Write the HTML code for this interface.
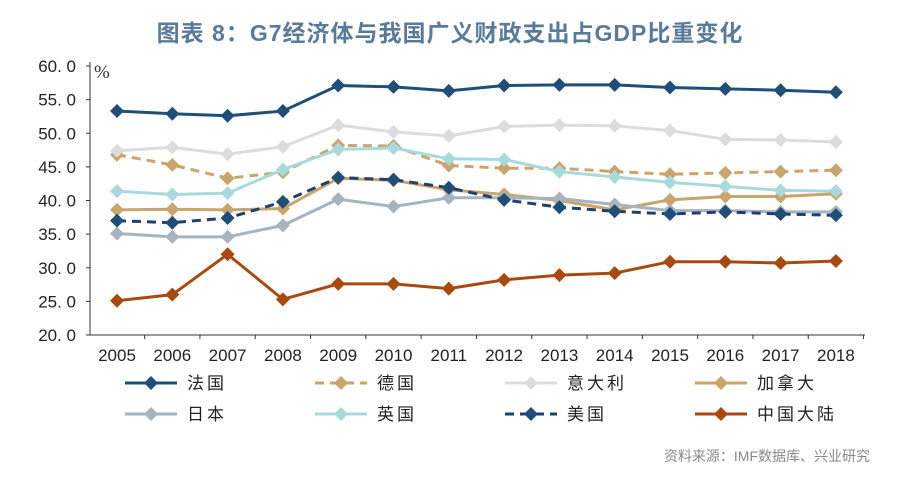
<!DOCTYPE html>
<html><head><meta charset="utf-8"><style>
body{margin:0;background:#fff;width:900px;height:490px;overflow:hidden;font-family:"Liberation Sans","Noto Sans CJK SC",sans-serif}
</style></head><body>
<svg width="900" height="490" id="c">
<text x="450" y="41" text-anchor="middle" font-size="23" font-weight="bold" fill="#5a7a99" letter-spacing="1" font-family="Liberation Sans,Noto Sans CJK SC,sans-serif">图表 8：G7经济体与我国广义财政支出占GDP比重变化</text>
<text x="94" y="78" font-size="19" fill="#333" font-family="Liberation Serif,serif">%</text>
<text x="870" y="461" text-anchor="end" font-size="14" fill="#888">资料来源：IMF数据库、兴业研究</text>
<g id="plot"></g>
</svg>
<script>
const years=['2005','2006','2007','2008','2009','2010','2011','2012','2013','2014','2015','2016','2017','2018'];
const yTicks=[20,25,30,35,40,45,50,55,60];
const france=[53.3,52.9,52.6,53.3,57.1,56.9,56.3,57.1,57.2,57.2,56.8,56.6,56.4,56.1];
const germany=[46.8,45.3,43.3,44.2,48.2,48.1,45.2,44.8,44.8,44.3,43.9,44.1,44.3,44.5];
const italy=[47.4,47.9,46.9,48.0,51.2,50.2,49.6,51.0,51.2,51.1,50.4,49.1,49.0,48.7];
const canada=[38.6,38.7,38.6,38.8,43.3,43.0,41.6,40.9,40.0,38.6,40.1,40.6,40.6,41.0];
const japan=[35.1,34.6,34.6,36.3,40.2,39.1,40.4,40.4,40.3,39.4,38.5,38.5,38.3,38.3];
const uk=[41.4,40.9,41.1,44.6,47.6,47.8,46.2,46.1,44.3,43.5,42.7,42.1,41.5,41.4];
const us=[37.0,36.7,37.4,39.8,43.4,43.1,41.9,40.1,39.0,38.4,38.0,38.3,38.0,37.8];
const china=[25.1,26.0,32.0,25.3,27.6,27.6,26.9,28.2,28.9,29.2,30.9,30.9,30.7,31.0];
const series=[
{n:'法国',d:france,c:'#1f4e79',dash:false,id:'france'},
{n:'德国',d:germany,c:'#c9a46c',dash:true,id:'germany'},
{n:'意大利',d:italy,c:'#dcdcdc',dash:false,id:'italy'},
{n:'加拿大',d:canada,c:'#c9a46c',dash:false,id:'canada'},
{n:'日本',d:japan,c:'#a5b4be',dash:false,id:'japan'},
{n:'英国',d:uk,c:'#a8dadc',dash:false,id:'uk'},
{n:'美国',d:us,c:'#1f3f6e',dash:true,id:'us',mc:'#1f4e79'},
{n:'中国大陆',d:china,c:'#a84a10',dash:false,id:'china'}];
const NS='http://www.w3.org/2000/svg';
const g=document.getElementById('plot');
const X=i=>117+i*55.3;
const Y=v=>335-(v-20)*6.725;
function mk(t,a,p){const e=document.createElementNS(NS,t);for(const k in a)e.setAttribute(k,a[k]);(p||g).appendChild(e);return e;}
let ax=mk('line',{x1:90,y1:335,x2:865,y2:335,stroke:'#333','stroke-width':1});


let ay=mk('line',{x1:90,y1:62,x2:90,y2:335,stroke:'#333','stroke-width':1});


yTicks.forEach(v=>{
 const t=mk('text',{x:76,y:Y(v)+6,'text-anchor':'end','font-size':17,fill:'#222'});t.textContent=v.toFixed(1).replace('.','. ');
 
 
 mk('line',{x1:86,y1:Y(v),x2:90,y2:Y(v),stroke:'#333'});
});
years.forEach((y,i)=>{
 const t=mk('text',{x:X(i),y:361,'text-anchor':'middle','font-size':17,fill:'#222'});t.textContent=y;
 
 
 mk('line',{x1:X(i)+27.65,y1:335,x2:X(i)+27.65,y2:339,stroke:'#333'});
});
function diamond(x,y,r,c,p){return mk('polygon',{points:`${x},${y-r} ${x+r},${y} ${x},${y+r} ${x-r},${y}`,fill:c},p);}
series.forEach(s=>{
 const sg=mk('g',{});
 
 
 const pts=s.d.map((v,i)=>X(i)+','+Y(v)).join(' ');
 const l=mk('polyline',{points:pts,fill:'none',stroke:s.c,'stroke-width':3,'stroke-dasharray':s.dash?'9,6':'none'},sg);
 
 
 s.d.forEach((v,i)=>{const d=diamond(X(i),Y(v),7,s.mc||s.c,sg);
  
  });
});
const lx=[125,315,505,695];
series.forEach((s,i)=>{
 const x=lx[i%4],y=i<4?383:414;
 const lg=mk('g',{});
 
 
 mk('line',{x1:x,y1:y,x2:x+52,y2:y,stroke:s.c,'stroke-width':3,'stroke-dasharray':s.dash?'9,6':'none'},lg);
 diamond(x+26,y,7,s.mc||s.c,lg);
 const t=mk('text',{x:x+62,y:y+6,'font-size':17,fill:'#222','letter-spacing':'3'},lg);t.textContent=s.n;
});
</script>
</body></html>
